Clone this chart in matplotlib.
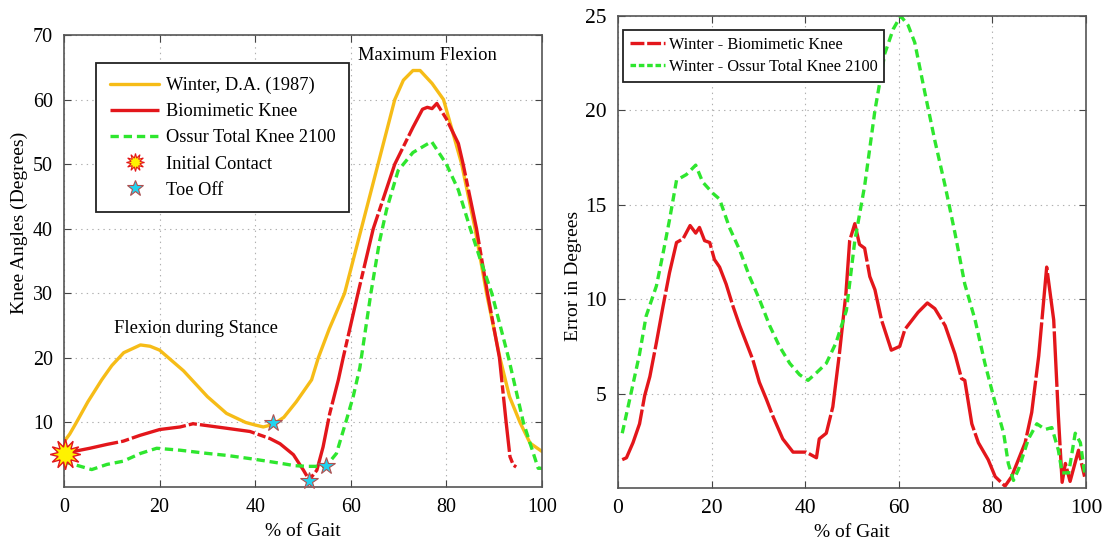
import matplotlib
matplotlib.use("Agg")
import matplotlib.pyplot as plt
from matplotlib.lines import Line2D

plt.rcParams['font.family'] = ['Liberation Serif', 'DejaVu Serif']
plt.rcParams['lines.scale_dashes'] = False

# ---------------- Left panel data ----------------
winter_x = [0, 1.2, 2.6, 5, 7.9, 10, 12.5, 16, 18, 20, 25, 30, 34, 38, 40, 41.7, 43.8, 46, 48.6,
            51.8, 53.2, 55.5, 58.7, 62.2, 65.7, 69.2, 71, 73, 74.5, 77, 79.4, 83.2, 86, 88.4,
            91.2, 93.2, 95.4, 97.5, 100]
winter_y = [7.0, 8.2, 10.0, 13.2, 16.6, 18.8, 20.8, 22.0, 21.8, 21.2, 18.0, 14.0, 11.4, 10.0, 9.6,
            9.3, 9.7, 10.8, 13.2, 16.6, 20.0, 24.5, 30.0, 40.0, 50.0, 60.0, 63.0, 64.5, 64.5,
            62.5, 60.0, 50.0, 40.0, 30.0, 20.0, 14.0, 10.0, 6.8, 5.5]

bio_x = [0, 2, 5.4, 9, 12.4, 15.9, 20, 24.3, 27, 30, 34, 38.9, 43.1, 45.2, 48, 50.1, 51.3, 52.9,
         54.2, 55.6, 57.4, 58.4, 61.5, 64.7, 69.2, 73, 75, 76, 77, 78, 80, 82.5, 83.5, 86.3,
         88.6, 91.1, 92.5, 93.3, 94.0, 94.6]
bio_y = [5.0, 5.5, 6.0, 6.6, 7.1, 8.0, 8.9, 9.3, 9.8, 9.5, 9.1, 8.6, 7.5, 6.7, 5.0, 2.6, 1.1, 2.6,
         6.2, 11.4, 16.6, 20.0, 30.0, 40.0, 50.0, 55.7, 58.5, 58.8, 58.6, 59.4, 57.0, 53.2, 50.0,
         40.0, 30.0, 20.0, 10.0, 4.7, 3.4, 3.1]

ossur_x = [0, 3, 5.8, 9, 12.4, 16, 19.4, 24.3, 30, 34, 38.9, 42.5, 45.9, 48.3, 51, 54.8, 57, 59.1,
           60.5, 61.9, 63, 64.2, 66, 67.5, 69.9, 73, 76.9, 80, 82.5, 85, 87.2, 89.5, 93, 96.1,
           99.2, 100]
ossur_y = [3.9, 3.3, 2.7, 3.5, 4.0, 5.2, 6.0, 5.7, 5.2, 4.9, 4.4, 4.0, 3.6, 3.3, 3.2, 3.2, 5.2, 10.4,
           14.0, 18.5, 24.0, 30.0, 38.0, 43.0, 49.0, 51.8, 53.5, 50.0, 46.0, 40.0, 35.0, 30.0,
           20.0, 10.0, 2.9, 2.9]

contact_x = [0.3]
contact_y = [5.1]
toe_x = [43.8, 51.3, 54.8]
toe_y = [9.9, 1.0, 3.3]

left_labels = ["Winter, D.A. (1987)", "Biomimetic Knee", "Ossur Total Knee 2100",
               "Initial Contact", "Toe Off"]

# ---------------- Right panel data ----------------
err_bio_x = [0.9, 1.8, 3.2, 4.6, 5.7, 6.8, 8.2, 9.6, 11, 12.5, 13.9, 15.4, 16.6, 17.4, 18.5, 19.6,
             20.6, 21.7, 23.1, 24.6, 26, 27.4, 28.8, 30.2, 31.7, 33.1, 35.2, 37.4, 38.8, 40.2, 42.4,
             43, 44.5, 45.9, 47.3, 48.7, 49.5, 50.6, 51.6, 52.7, 53.8, 54.9, 56.3, 58.4, 60.2, 61.3,
             64.1, 66.1, 67.7, 69.9, 72, 73.4, 74.1, 75.6, 77, 79.1, 80.6, 82.7, 84.1, 87, 88.4,
             89.9, 91.6, 93.1, 94.1, 94.9, 95.6, 96.6, 98.4, 99.7]
err_bio_y = [1.5, 1.6, 2.4, 3.4, 4.9, 5.9, 7.7, 9.6, 11.4, 13.0, 13.2, 13.9, 13.5, 13.8, 13.1, 13.0,
             12.1, 11.7, 10.8, 9.6, 8.6, 7.7, 6.8, 5.6, 4.7, 3.8, 2.6, 1.9, 1.9, 1.9, 1.6,
             2.6, 2.9, 4.3, 7.1, 10.3, 13.1, 14.0, 12.9, 12.7, 11.2, 10.5, 8.9, 7.3, 7.5, 8.4,
             9.3, 9.8, 9.5, 8.6, 7.1, 5.8, 5.7, 3.4, 2.4, 1.5, 0.6, 0.1, 0.6, 2.4, 4.0,
             7.0, 11.7, 8.9, 3.8, 0.3, 1.3, 0.35, 2.0, 0.6]

err_ossur_x = [0.9, 2.5, 4.6, 6, 8.2, 9.6, 11, 12.5, 14.6, 16.6, 18.1, 20.3, 21.7, 23.8, 26, 28.1,
               30.2, 32.4, 34.5, 36.7, 38.8, 40.6, 42.4, 44.5, 46.6, 48.8, 50.6, 52.7, 54.9, 57,
               58.8, 60.4, 62, 63.4, 65.6, 67.7, 69.9, 72, 74.1, 76.3, 78.4, 80.6, 82.4, 83.4,
               84.5, 85.6, 87.7, 89.5, 91.3, 92.7, 94.1, 94.9, 96.3, 97.7, 98.8, 99.7]
err_ossur_y = [2.9, 4.7, 7.1, 9.1, 10.7, 12.4, 14.2, 16.3, 16.6, 17.1, 16.2, 15.6, 15.3, 13.8, 12.6,
               11.2, 10.0, 8.6, 7.5, 6.6, 6.0, 5.7, 6.1, 6.6, 7.7, 9.4, 13.1, 16.0, 20.0, 23.0,
               24.3, 25.0, 24.5, 23.6, 20.9, 18.4, 16.0, 13.5, 10.8, 8.9, 6.6, 4.5, 2.9, 1.3,
               0.4, 1.0, 2.6, 3.4, 3.1, 3.2, 2.0, 0.8, 0.8, 2.9, 2.4, 0.8]

right_labels = ["Winter - Biomimetic Knee", "Winter - Ossur Total Knee 2100"]

x_ticks = [0, 20, 40, 60, 80, 100]
left_yticks = [10, 20, 30, 40, 50, 60, 70]
right_yticks = [5, 10, 15, 20, 25]

# ---------------- Styles ----------------
YELLOW = '#F6BC17'
RED = '#E3161B'
GREEN = '#2EE62E'
red_ls = (0, (40, 2.2, 6, 2.2))
green_ls = (0, (6, 3.5))
lw = 2.4

fig = plt.figure(figsize=(11.05, 5.45), dpi=100)
axL = fig.add_axes([0.0579, 0.1064, 0.4326, 0.8294])
axR = fig.add_axes([0.5593, 0.1046, 0.4235, 0.8661])


def style_axes(ax, tick_size):
    ax.grid(True, linestyle=(0, (1, 3)), color='#b0b0b0', linewidth=0.8)
    ax.tick_params(direction='in', top=True, right=True, length=5, labelsize=tick_size,
                   color='#444444', pad=8)
    for s in ax.spines.values():
        s.set_color('#555555')
        s.set_linewidth(1.2)
    ax.set_xticks(x_ticks)
    ax.set_xlim(0, 100)


# Left panel
l1, = axL.plot(winter_x, winter_y, color=YELLOW, lw=lw, solid_capstyle='round')
l2, = axL.plot(bio_x, bio_y, color=RED, lw=lw, linestyle=red_ls)
l3, = axL.plot(ossur_x, ossur_y, color=GREEN, lw=lw, linestyle=green_ls)
axL.plot(contact_x, contact_y, linestyle='none', marker=(12, 1, 0), markersize=22,
         markerfacecolor='#FFF200', markeredgecolor='#E3161B', markeredgewidth=1.0,
         clip_on=False, zorder=5)
axL.plot(toe_x, toe_y, linestyle='none', marker='*', markersize=13,
         markerfacecolor='#22D3EE', markeredgecolor='#B05050', markeredgewidth=0.8,
         clip_on=False, zorder=5)
style_axes(axL, 14.4)
axL.set_ylim(0, 70)
axL.set_yticks(left_yticks)
axL.set_xlabel('% of Gait', fontsize=14, labelpad=4)
axL.set_ylabel('Knee Angles (Degrees)', fontsize=14)
axL.yaxis.set_label_coords(-0.075, 0.585)
axL.text(61.5, 66.9, 'Maximum Flexion', fontsize=13.3, va='center', ha='left')
axL.text(10.5, 24.6, 'Flexion during Stance', fontsize=13.3, va='center', ha='left')

h4 = Line2D([], [], linestyle='none', marker=(12, 1, 0), markersize=13,
            markerfacecolor='#FFF200', markeredgecolor='#E3161B', markeredgewidth=0.8)
h5 = Line2D([], [], linestyle='none', marker='*', markersize=12,
            markerfacecolor='#22D3EE', markeredgecolor='#B05050', markeredgewidth=0.8)
legL = axL.legend([l1, l2, l3, h4, h5], left_labels, loc='upper left',
                  bbox_to_anchor=(0.067, 0.938), fontsize=13.2, handlelength=2.7,
                  fancybox=False, edgecolor='#222222', framealpha=1, borderpad=0.75,
                  labelspacing=0.5, handletextpad=0.35, borderaxespad=0)
legL.get_frame().set_linewidth(1.3)

# Right panel
axR.plot(err_bio_x, err_bio_y, color=RED, lw=lw, linestyle=(0, (40, 2.2)))
axR.plot(err_ossur_x, err_ossur_y, color=GREEN, lw=lw, linestyle=green_ls)
style_axes(axR, 15.5)
axR.set_ylim(0, 25)
axR.set_yticks(right_yticks)
axR.set_xlabel('% of Gait', fontsize=14, labelpad=4)
axR.set_ylabel('Error in Degrees', fontsize=14)
axR.yaxis.set_label_coords(-0.077, 0.45)
hr1 = Line2D([], [], color=RED, lw=lw, linestyle=(0, (10, 2)))
hr2 = Line2D([], [], color=GREEN, lw=lw, linestyle=(0, (4, 2)))
legR = axR.legend([hr1, hr2], right_labels, loc='upper left', bbox_to_anchor=(0.011, 0.97),
                  fontsize=11.7, handlelength=2.2, fancybox=False, edgecolor='#222222',
                  framealpha=1, borderpad=0.4, labelspacing=0.4, handletextpad=0.2,
                  borderaxespad=0)
legR.get_frame().set_linewidth(1.3)

fig.savefig('out.png', dpi=100)
